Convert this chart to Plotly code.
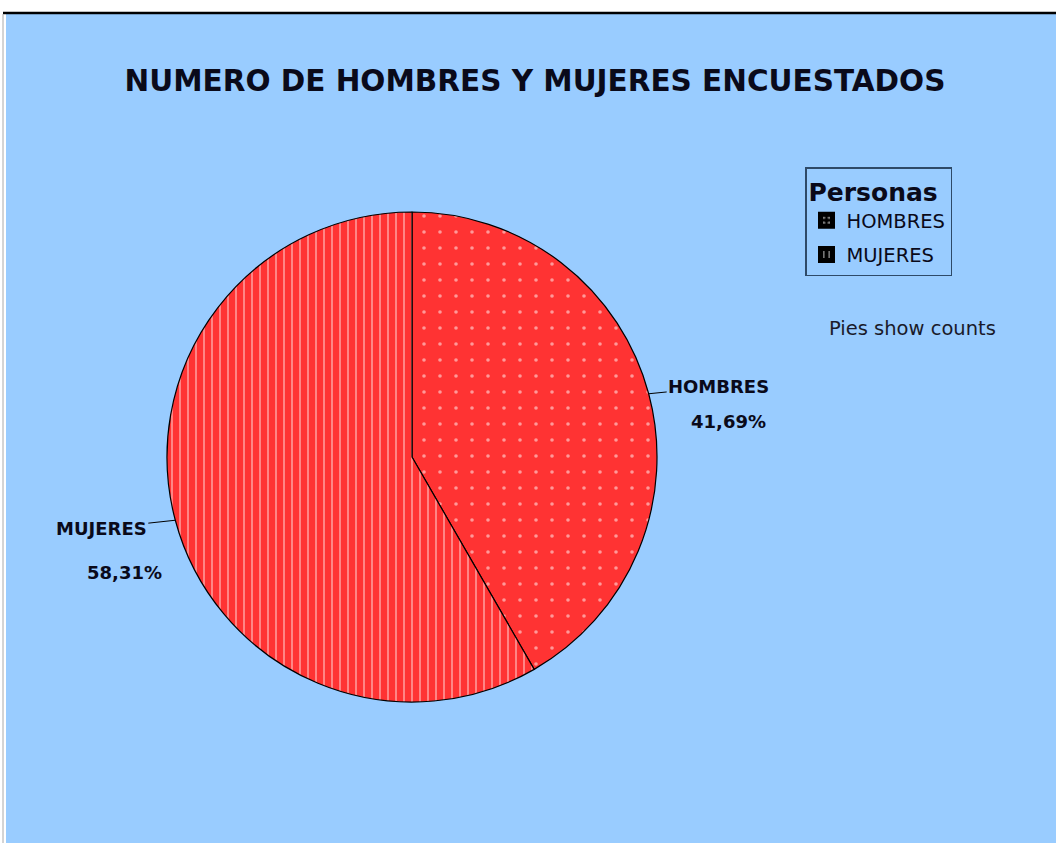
import numpy as np
import plotly.graph_objects as go

# Survey respondents by sex (percent of total)
categories = ["HOMBRES", "MUJERES"]
values = [41.69, 58.31]
pattern_shapes = [".", "|"]

W, H = 1056, 843
BG = "#99CCFF"
RED = "#FF3333"
INK = "#0a0a1a"

# Pie placement in pixels
cx, cy, R = 412, 457, 245

fig = go.Figure()

fig.add_trace(go.Pie(
    labels=categories,
    values=values,
    sort=False,
    direction="clockwise",
    rotation=0,
    textinfo="none",
    hoverinfo="label+percent",
    showlegend=False,
    domain=dict(x=[(cx - R) / W, (cx + R) / W], y=[1 - (cy + R) / H, 1 - (cy - R) / H]),
    marker=dict(
        colors=[RED, RED],
        line=dict(color="black", width=1.2),
        pattern=dict(shape=pattern_shapes, fgcolor="white", bgcolor=RED,
                     size=[16, 8], solidity=[0.04, 0.2], fillmode="overlay"),
    ),
))

# Legend entries drawn as black pattern swatches
for name, shp in zip(categories, pattern_shapes):
    fig.add_trace(go.Bar(
        x=[None], y=[None], name=name, legendgroup=name,
        marker=dict(color="black", line=dict(width=5, color="black"),
                    pattern=dict(shape=shp, fgcolor="white", bgcolor="black",
                                 size=7, solidity=0.3)),
        hoverinfo="skip",
    ))

# Outside labels with leader lines
total = sum(values)
cum = 0.0
label_font = dict(family="DejaVu Sans", size=18, color=INK)
# pixel offsets (dx, dy) of name label and percentage label from the slice edge
offsets = {"HOMBRES": ((70, -7), (80, 28)), "MUJERES": ((-74, 8), (-51, 52))}
for name, v in zip(categories, values):
    mid = (cum + v / 2) / total * 2 * np.pi
    cum += v
    ex = cx + R * np.sin(mid)
    ey = cy - R * np.cos(mid)
    (ndx, ndy), (pdx, pdy) = offsets[name]
    fig.add_annotation(
        x=ex / W, y=1 - ey / H, xref="paper", yref="paper",
        ax=ndx, ay=ndy, axref="pixel", ayref="pixel",
        text="<b>%s</b>" % name, font=label_font,
        showarrow=True, arrowhead=0, arrowwidth=1, arrowcolor="black",
    )
    pct = "%.2f" % (v / total * 100)
    fig.add_annotation(
        x=(ex + pdx) / W, y=1 - (ey + pdy) / H, xref="paper", yref="paper",
        text="<b>%s%%</b>" % pct.replace(".", ","), font=label_font,
        showarrow=False, xanchor="center", yanchor="middle",
    )

fig.add_annotation(
    x=912 / W, y=1 - 329 / H, xref="paper", yref="paper",
    text="Pies show counts", showarrow=False,
    font=dict(family="DejaVu Sans", size=19.5, color="#1a1a2a"),
    xanchor="center", yanchor="middle",
)

# Blue panel and top rule
fig.add_shape(type="rect", xref="paper", yref="paper",
              x0=6 / W, x1=1, y0=0, y1=1 - 14 / H,
              fillcolor=BG, line=dict(width=0), layer="below")
fig.add_shape(type="line", xref="paper", yref="paper",
              x0=3 / W, x1=1, y0=1 - 13 / H, y1=1 - 13 / H,
              line=dict(color="black", width=2.5), layer="below")
fig.add_shape(type="line", xref="paper", yref="paper",
              x0=3 / W, x1=3 / W, y0=0, y1=1 - 14 / H,
              line=dict(color="#aaaaaa", width=1), layer="below")

fig.update_layout(
    width=W, height=H,
    margin=dict(l=0, r=0, t=0, b=0),
    paper_bgcolor="white",
    plot_bgcolor="rgba(0,0,0,0)",
    title=dict(text="<b>NUMERO DE HOMBRES Y MUJERES ENCUESTADOS</b>",
               x=535 / W, xanchor="center", y=1 - 81 / H, yanchor="middle",
               font=dict(family="DejaVu Sans", size=29.5, color=INK)),
    xaxis=dict(visible=False, domain=[0.99, 1]),
    yaxis=dict(visible=False, domain=[0.99, 1]),
    legend=dict(
        x=805 / W, y=1 - 167 / H, xanchor="left", yanchor="top",
        bgcolor=BG, bordercolor="#2e4a68", borderwidth=1.5,
        title=dict(text="<b>Personas</b>",
                   font=dict(family="DejaVu Sans", size=25, color=INK)),
        font=dict(family="DejaVu Sans", size=19.5, color=INK),
        traceorder="grouped", tracegroupgap=6,
        itemwidth=30,
    ),
    showlegend=True,
)

fig.write_html("out.html")
